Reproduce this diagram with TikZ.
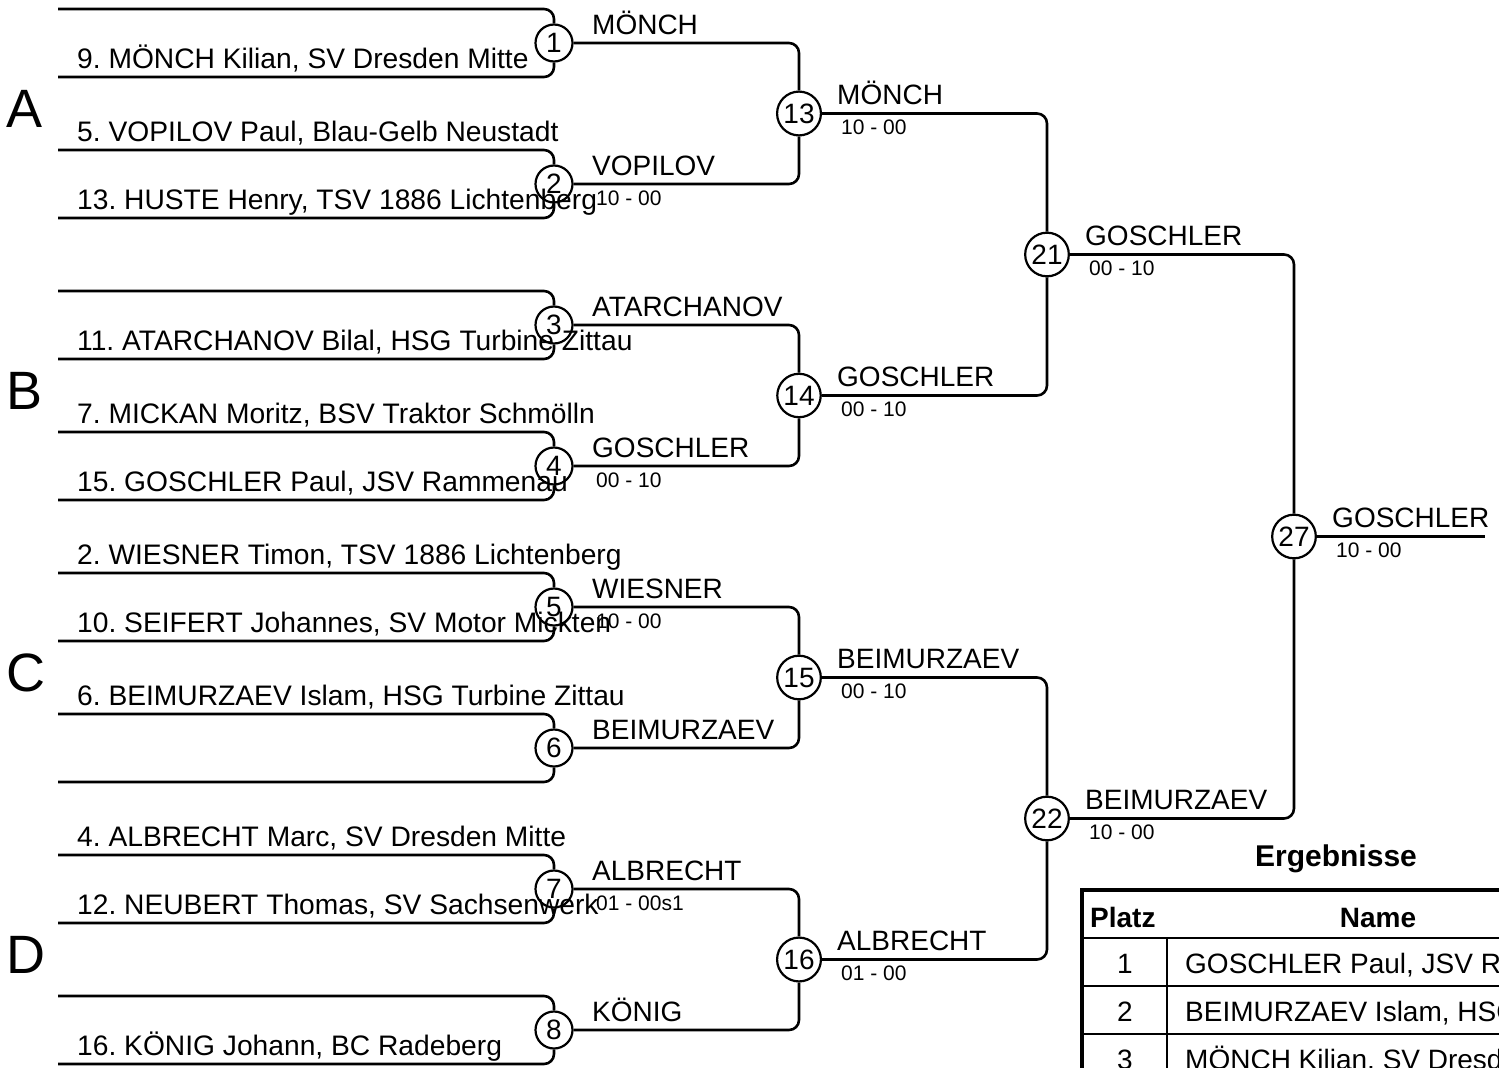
\documentclass[tikz,border=0pt]{standalone}
\usepackage{fontspec}
\setmainfont{Liberation Sans}
\usetikzlibrary{positioning}
\frenchspacing

\begin{document}
\begin{tikzpicture}[x=1pt, y=-1pt, inner sep=0pt,
  kampf/.style={circle, draw, line width=2.2pt, inner sep=2.5pt, minimum size=37pt, font=\fontsize{28}{30}\selectfont},
  linie/.style={line width=2.6pt, rounded corners=10pt},
  spieler/.style={anchor=base west, font=\fontsize{28.2}{30}\selectfont},
  sieger/.style={anchor=base west, font=\fontsize{28}{30}\selectfont},
  wertung/.style={anchor=base west, font=\fontsize{21}{23}\selectfont},
  gruppe/.style={anchor=base west, font=\fontsize{54}{56}\selectfont},
  kopf/.style={anchor=base, font=\bfseries\fontsize{28}{30}\selectfont},
  zelle/.style={anchor=base west, font=\fontsize{28}{30}\selectfont}]
\useasboundingbox (0,0) rectangle (1499,1068);
\clip (0,0) rectangle (1499,1068);

% Kaempfe
\node [kampf] (m1) at (554,43) {1};
\node [kampf] (m2) at (554,184) {2};
\node [kampf] (m3) at (554,325) {3};
\node [kampf] (m4) at (554,466) {4};
\node [kampf] (m5) at (554,607) {5};
\node [kampf] (m6) at (554,748) {6};
\node [kampf] (m7) at (554,889) {7};
\node [kampf] (m8) at (554,1030) {8};
\node [kampf] (m13) at (799,113.5) {13};
\node [kampf] (m14) at (799,395.5) {14};
\node [kampf] (m15) at (799,677.5) {15};
\node [kampf] (m16) at (799,959.5) {16};
\node [kampf] (m21) at (1047,254.5) {21};
\node [kampf] (m22) at (1047,818.5) {22};
\node [kampf] (m27) at (1294,536.5) {27};
\coordinate (ende) at (1485,536.5);

% Startplaetze
\coordinate (s1a) at (58,9);    \coordinate (s1b) at (58,77);
\coordinate (s2a) at (58,150);  \coordinate (s2b) at (58,218);
\coordinate (s3a) at (58,291);  \coordinate (s3b) at (58,359);
\coordinate (s4a) at (58,432);  \coordinate (s4b) at (58,500);
\coordinate (s5a) at (58,573);  \coordinate (s5b) at (58,641);
\coordinate (s6a) at (58,714);  \coordinate (s6b) at (58,782);
\coordinate (s7a) at (58,855);  \coordinate (s7b) at (58,923);
\coordinate (s8a) at (58,996);  \coordinate (s8b) at (58,1064);

\draw [linie] (s1a) -| (m1);  \draw [linie] (s1b) -| (m1);
\draw [linie] (s2a) -| (m2);  \draw [linie] (s2b) -| (m2);
\draw [linie] (s3a) -| (m3);  \draw [linie] (s3b) -| (m3);
\draw [linie] (s4a) -| (m4);  \draw [linie] (s4b) -| (m4);
\draw [linie] (s5a) -| (m5);  \draw [linie] (s5b) -| (m5);
\draw [linie] (s6a) -| (m6);  \draw [linie] (s6b) -| (m6);
\draw [linie] (s7a) -| (m7);  \draw [linie] (s7b) -| (m7);
\draw [linie] (s8a) -| (m8);  \draw [linie] (s8b) -| (m8);

\draw [linie] (m1) -| (m13);  \draw [linie] (m2) -| (m13);
\draw [linie] (m3) -| (m14);  \draw [linie] (m4) -| (m14);
\draw [linie] (m5) -| (m15);  \draw [linie] (m6) -| (m15);
\draw [linie] (m7) -| (m16);  \draw [linie] (m8) -| (m16);
\draw [linie] (m13) -| (m21); \draw [linie] (m14) -| (m21);
\draw [linie] (m15) -| (m22); \draw [linie] (m16) -| (m22);
\draw [linie] (m21) -| (m27); \draw [linie] (m22) -| (m27);
\draw [linie] (m27) -- (ende);

% Gruppen
\node [gruppe] (gA) at (6,127.5) {A};
\node [gruppe] (gB) at (6,409.5) {B};
\node [gruppe] (gC) at (6,691.5) {C};
\node [gruppe] (gD) at (6,973.5) {D};

% Teilnehmer
\node [spieler] (n1b) at ([shift={(19,-9)}]s1b) {9. MÖNCH Kilian, SV Dresden Mitte};
\node [spieler] (n2a) at ([shift={(19,-9)}]s2a) {5. VOPILOV Paul, Blau-Gelb Neustadt};
\node [spieler] (n2b) at ([shift={(19,-9)}]s2b) {13. HUSTE Henry, TSV 1886 Lichtenberg};
\node [spieler] (n3b) at ([shift={(19,-9)}]s3b) {11. ATARCHANOV Bilal, HSG Turbine Zittau};
\node [spieler] (n4a) at ([shift={(19,-9)}]s4a) {7. MICKAN Moritz, BSV Traktor Schmölln};
\node [spieler] (n4b) at ([shift={(19,-9)}]s4b) {15. GOSCHLER Paul, JSV Rammenau};
\node [spieler] (n5a) at ([shift={(19,-9)}]s5a) {2. WIESNER Timon, TSV 1886 Lichtenberg};
\node [spieler] (n5b) at ([shift={(19,-9)}]s5b) {10. SEIFERT Johannes, SV Motor Mickten};
\node [spieler] (n6a) at ([shift={(19,-9)}]s6a) {6. BEIMURZAEV Islam, HSG Turbine Zittau};
\node [spieler] (n7a) at ([shift={(19,-9)}]s7a) {4. ALBRECHT Marc, SV Dresden Mitte};
\node [spieler] (n7b) at ([shift={(19,-9)}]s7b) {12. NEUBERT Thomas, SV Sachsenwerk};
\node [spieler] (n8b) at ([shift={(19,-9)}]s8b) {16. KÖNIG Johann, BC Radeberg};

% Sieger und Wertungen
\node [sieger] (w1) at ([shift={(38,-9)}]m1) {MÖNCH};
\node [sieger] (w2) at ([shift={(38,-9)}]m2) {VOPILOV};
\node [wertung] (e2) at ([shift={(42,21)}]m2) {10 - 00};
\node [sieger] (w3) at ([shift={(38,-9)}]m3) {ATARCHANOV};
\node [sieger] (w4) at ([shift={(38,-9)}]m4) {GOSCHLER};
\node [wertung] (e4) at ([shift={(42,21)}]m4) {00 - 10};
\node [sieger] (w5) at ([shift={(38,-9)}]m5) {WIESNER};
\node [wertung] (e5) at ([shift={(42,21)}]m5) {10 - 00};
\node [sieger] (w6) at ([shift={(38,-9)}]m6) {BEIMURZAEV};
\node [sieger] (w7) at ([shift={(38,-9)}]m7) {ALBRECHT};
\node [wertung] (e7) at ([shift={(42,21)}]m7) {01 - 00s1};
\node [sieger] (w8) at ([shift={(38,-9)}]m8) {KÖNIG};
\node [sieger] (w13) at ([shift={(38,-9)}]m13) {MÖNCH};
\node [wertung] (e13) at ([shift={(42,21)}]m13) {10 - 00};
\node [sieger] (w14) at ([shift={(38,-9)}]m14) {GOSCHLER};
\node [wertung] (e14) at ([shift={(42,21)}]m14) {00 - 10};
\node [sieger] (w15) at ([shift={(38,-9)}]m15) {BEIMURZAEV};
\node [wertung] (e15) at ([shift={(42,21)}]m15) {00 - 10};
\node [sieger] (w16) at ([shift={(38,-9)}]m16) {ALBRECHT};
\node [wertung] (e16) at ([shift={(42,21)}]m16) {01 - 00};
\node [sieger] (w21) at ([shift={(38,-9)}]m21) {GOSCHLER};
\node [wertung] (e21) at ([shift={(42,21)}]m21) {00 - 10};
\node [sieger] (w22) at ([shift={(38,-9)}]m22) {BEIMURZAEV};
\node [wertung] (e22) at ([shift={(42,21)}]m22) {10 - 00};
\node [sieger] (w27) at ([shift={(38,-9)}]m27) {GOSCHLER};
\node [wertung] (e27) at ([shift={(42,21)}]m27) {10 - 00};

% Ergebnisse
\node [kopf, font=\bfseries\fontsize{30}{32}\selectfont] (titel) at (1336,866) {Ergebnisse};
\draw [line width=2.5pt] (1082,938) -- (1590,938);
\draw [line width=2.5pt] (1082,986) -- (1590,986);
\draw [line width=2.5pt] (1082,1034) -- (1590,1034);
\draw [line width=2.5pt] (1167,938) -- (1167,1100);
\draw [line width=4pt] (1082,890) rectangle (1590,1120);
\node [kopf, anchor=base west] (platz) at (1090,927) {Platz};
\node [kopf] (name) at (1378,927) {Name};
\node [zelle, anchor=base] (p1) at (1125,973) {1};
\node [zelle] (z1) at (1185,973) {GOSCHLER Paul, JSV Rammenau};
\node [zelle, anchor=base] (p2) at (1125,1021) {2};
\node [zelle] (z2) at (1185,1021) {BEIMURZAEV Islam, HSG Turbine Zittau};
\node [zelle, anchor=base] (p3) at (1125,1069) {3};
\node [zelle] (z3) at (1185,1069) {MÖNCH Kilian, SV Dresden Mitte};
\end{tikzpicture}
\end{document}
